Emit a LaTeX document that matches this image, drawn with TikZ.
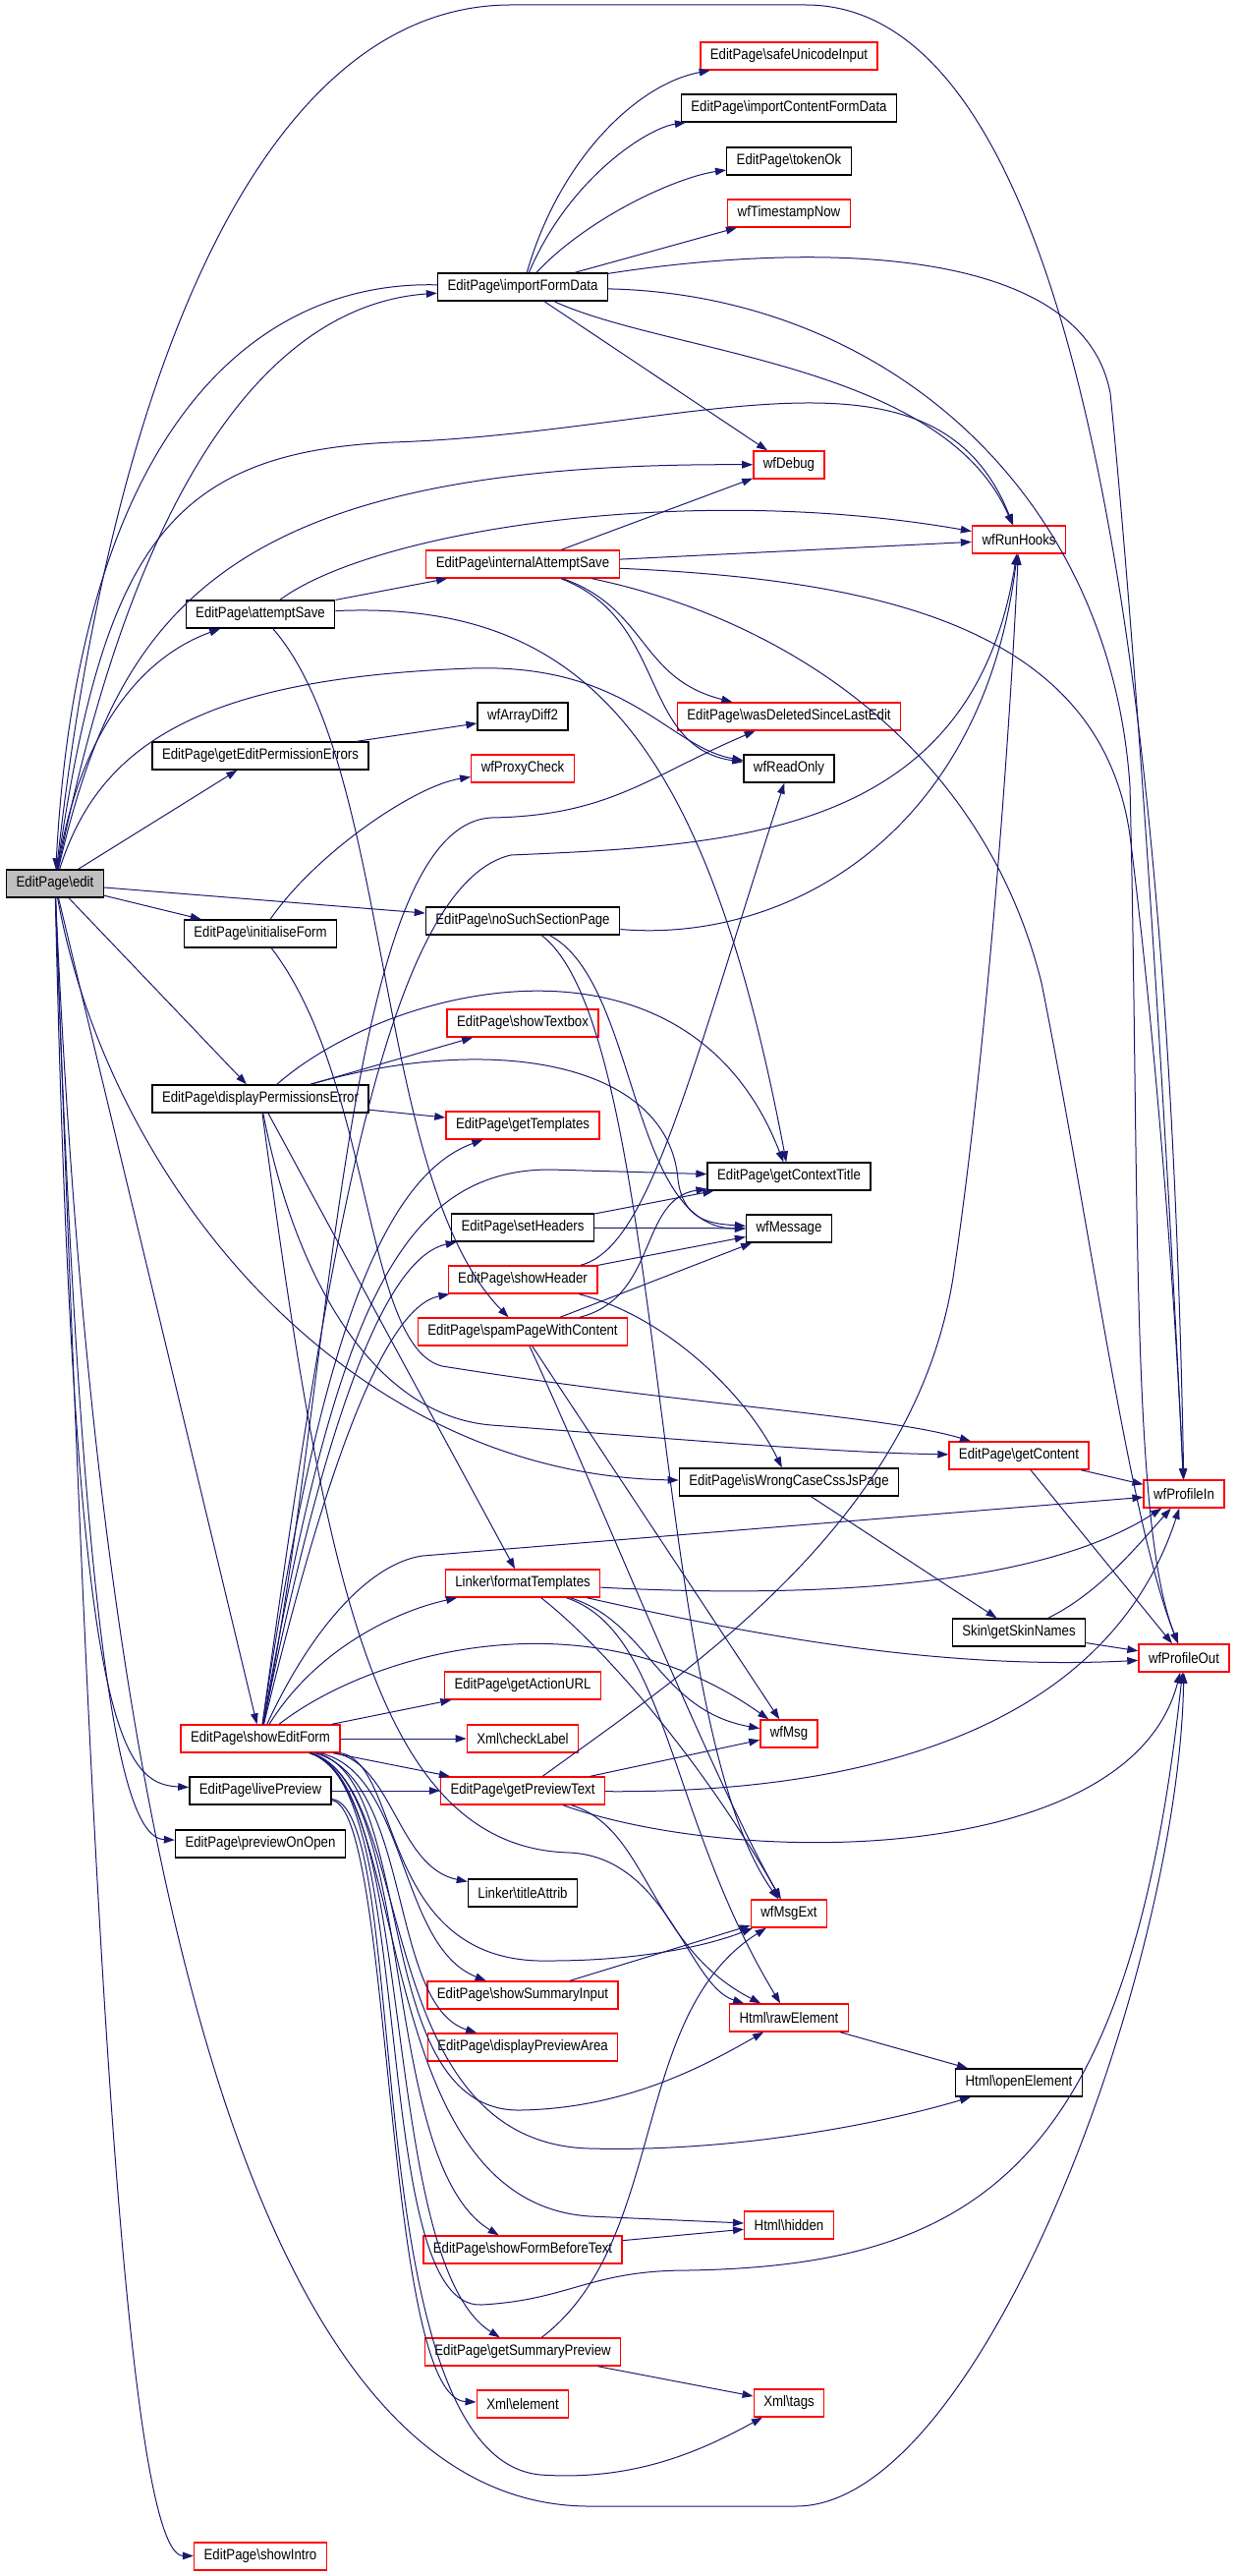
\documentclass[tikz,border=0pt]{standalone}
\usepackage{fontspec}
\setmainfont{Liberation Sans}[FakeStretch=0.87]
\usepackage{tikz}
\usetikzlibrary{arrows.meta}
\definecolor{cc}{RGB}{191, 191, 191}
\definecolor{nv}{RGB}{25, 25, 112}
\tikzset{
  fn/.style={rectangle, draw=black, line width=0.7pt, fill=white, inner xsep=5pt, inner ysep=0pt, minimum height=14pt, font=\fontsize{7.6}{9}\selectfont},
  fnred/.style={fn, draw=red},
  fnroot/.style={fn, fill=cc},
  call/.style={draw=nv, line width=0.5pt, -{Triangle[length=5.5pt, width=3.8pt]}}
}
\begin{document}
\begin{tikzpicture}[scale=0.5]
\useasboundingbox (0pt, 0pt) rectangle (1259pt, -2621pt);
\node (1) [fnroot] at (56pt, -899pt) {EditPage\textbackslash edit};
\node (2) [fn] at (532pt, -292pt) {EditPage\textbackslash importFormData};
\node (3) [fnred] at (803pt, -57pt) {EditPage\textbackslash safeUnicodeInput};
\node (4) [fn] at (803pt, -110pt) {EditPage\textbackslash importContentFormData};
\node (5) [fn] at (803pt, -164pt) {EditPage\textbackslash tokenOk};
\node (6) [fnred] at (803pt, -217pt) {wfTimestampNow};
\node (7) [fnred] at (803pt, -473pt) {wfDebug};
\node (8) [fnred] at (1037pt, -549pt) {wfRunHooks};
\node (9) [fnred] at (532pt, -574pt) {EditPage\textbackslash internalAttemptSave};
\node (10) [fn] at (265pt, -625pt) {EditPage\textbackslash attemptSave};
\node (11) [fn] at (532pt, -729pt) {wfArrayDiff2};
\node (12) [fnred] at (803pt, -729pt) {EditPage\textbackslash wasDeletedSinceLastEdit};
\node (13) [fn] at (265pt, -769pt) {EditPage\textbackslash getEditPermissionErrors};
\node (14) [fnred] at (532pt, -782pt) {wfProxyCheck};
\node (15) [fn] at (803pt, -782pt) {wfReadOnly};
\node (16) [fn] at (532pt, -937pt) {EditPage\textbackslash noSuchSectionPage};
\node (17) [fn] at (265pt, -950pt) {EditPage\textbackslash initialiseForm};
\node (18) [fnred] at (532pt, -1041pt) {EditPage\textbackslash showTextbox};
\node (19) [fn] at (265pt, -1118pt) {EditPage\textbackslash displayPermissionsError};
\node (20) [fnred] at (532pt, -1145pt) {EditPage\textbackslash getTemplates};
\node (21) [fn] at (803pt, -1197pt) {EditPage\textbackslash getContextTitle};
\node (22) [fn] at (532pt, -1249pt) {EditPage\textbackslash setHeaders};
\node (23) [fn] at (803pt, -1250pt) {wfMessage};
\node (24) [fnred] at (532pt, -1302pt) {EditPage\textbackslash showHeader};
\node (25) [fnred] at (532pt, -1355pt) {EditPage\textbackslash spamPageWithContent};
\node (26) [fnred] at (1037pt, -1481pt) {EditPage\textbackslash getContent};
\node (27) [fn] at (803pt, -1508pt) {EditPage\textbackslash isWrongCaseCssJsPage};
\node (28) [fnred] at (1205pt, -1520pt) {wfProfileIn};
\node (29) [fnred] at (532pt, -1611pt) {Linker\textbackslash formatTemplates};
\node (30) [fn] at (1037pt, -1661pt) {Skin\textbackslash getSkinNames};
\node (31) [fnred] at (1205pt, -1687pt) {wfProfileOut};
\node (32) [fnred] at (532pt, -1715pt) {EditPage\textbackslash getActionURL};
\node (33) [fnred] at (265pt, -1769pt) {EditPage\textbackslash showEditForm};
\node (34) [fnred] at (532pt, -1769pt) {Xml\textbackslash checkLabel};
\node (35) [fnred] at (803pt, -1764pt) {wfMsg};
\node (36) [fn] at (265pt, -1822pt) {EditPage\textbackslash livePreview};
\node (37) [fnred] at (532pt, -1822pt) {EditPage\textbackslash getPreviewText};
\node (38) [fn] at (265pt, -1876pt) {EditPage\textbackslash previewOnOpen};
\node (39) [fn] at (532pt, -1926pt) {Linker\textbackslash titleAttrib};
\node (40) [fnred] at (803pt, -1947pt) {wfMsgExt};
\node (41) [fnred] at (532pt, -2030pt) {EditPage\textbackslash showSummaryInput};
\node (42) [fnred] at (803pt, -2053pt) {Html\textbackslash rawElement};
\node (43) [fnred] at (532pt, -2083pt) {EditPage\textbackslash displayPreviewArea};
\node (44) [fn] at (1037pt, -2119pt) {Html\textbackslash openElement};
\node (45) [fnred] at (803pt, -2264pt) {Html\textbackslash hidden};
\node (46) [fnred] at (532pt, -2289pt) {EditPage\textbackslash showFormBeforeText};
\node (47) [fnred] at (532pt, -2393pt) {EditPage\textbackslash getSummaryPreview};
\node (48) [fnred] at (532pt, -2446pt) {Xml\textbackslash element};
\node (49) [fnred] at (803pt, -2445pt) {Xml\textbackslash tags};
\node (50) [fnred] at (265pt, -2601pt) {EditPage\textbackslash showIntro};
\draw [call] (1) .. controls (110pt, -400pt) and (260pt, -5pt) .. (520pt, -5pt) -- (820pt, -5pt) .. controls (1100pt, -5pt) and (1190pt, -700pt) .. (28);
\draw [call] (1) .. controls (140pt, -480pt) and (280pt, -310pt) .. (2);
\draw [call] (2) .. controls (250pt, -285pt) and (80pt, -450pt) .. (1);
\draw [call] (1) .. controls (120pt, -620pt) and (230pt, -470pt) .. (7);
\draw [call] (1) .. controls (105pt, -560pt) and (170pt, -460pt) .. (400pt, -450pt) .. controls (700pt, -440pt) and (950pt, -330pt) .. (8);
\draw [call] (1) .. controls (80pt, -750pt) and (140pt, -670pt) .. (10);
\draw [call] (1) .. controls (100pt, -760pt) and (200pt, -690pt) .. (480pt, -680pt) .. controls (640pt, -675pt) and (680pt, -760pt) .. (15);
\draw [call] (1) -- (13);
\draw [call] (1) -- (16);
\draw [call] (1) -- (17);
\draw [call] (1) -- (19);
\draw [call] (1) .. controls (110pt, -1200pt) and (350pt, -1500pt) .. (27);
\draw [call] (1) -- (33);
\draw [call] (1) .. controls (75pt, -1750pt) and (120pt, -1815pt) .. (36);
\draw [call] (1) .. controls (85pt, -1750pt) and (130pt, -1870pt) .. (38);
\draw [call] (1) .. controls (85pt, -1700pt) and (120pt, -2600pt) .. (50);
\draw [call] (1) .. controls (100pt, -1900pt) and (260pt, -2550pt) .. (600pt, -2550pt) -- (810pt, -2550pt) .. controls (1000pt, -2550pt) and (1200pt, -2000pt) .. (31);
\draw [call] (2) .. controls (570pt, -160pt) and (650pt, -85pt) .. (3);
\draw [call] (2) .. controls (580pt, -180pt) and (660pt, -130pt) .. (4);
\draw [call] (2) .. controls (600pt, -220pt) and (690pt, -180pt) .. (5);
\draw [call] (2) -- (6);
\draw [call] (2) -- (7);
\draw [call] (2) .. controls (680pt, -360pt) and (960pt, -370pt) .. (8);
\draw [call] (2) .. controls (800pt, -250pt) and (1100pt, -240pt) .. (1130pt, -400pt) .. controls (1160pt, -700pt) and (1190pt, -1200pt) .. (28);
\draw [call] (2) .. controls (900pt, -300pt) and (1130pt, -500pt) .. (1150pt, -800pt) .. controls (1160pt, -1200pt) and (1150pt, -1550pt) .. (31);
\draw [call] (9) -- (7);
\draw [call] (9) -- (8);
\draw [call] (9) .. controls (660pt, -620pt) and (650pt, -690pt) .. (12);
\draw [call] (9) .. controls (680pt, -630pt) and (650pt, -760pt) .. (15);
\draw [call] (9) .. controls (900pt, -590pt) and (1120pt, -640pt) .. (1150pt, -850pt) .. controls (1175pt, -1050pt) and (1195pt, -1300pt) .. (28);
\draw [call] (9) .. controls (800pt, -630pt) and (1000pt, -760pt) .. (1060pt, -1000pt) .. controls (1110pt, -1250pt) and (1150pt, -1550pt) .. (31);
\draw [call] (10) -- (9);
\draw [call] (10) .. controls (380pt, -540pt) and (700pt, -490pt) .. (8);
\draw [call] (10) .. controls (600pt, -610pt) and (720pt, -760pt) .. (21);
\draw [call] (10) .. controls (400pt, -780pt) and (380pt, -1200pt) .. (25);
\draw [call] (13) -- (11);
\draw [call] (17) .. controls (320pt, -870pt) and (420pt, -800pt) .. (14);
\draw [call] (17) .. controls (380pt, -1100pt) and (370pt, -1370pt) .. (450pt, -1390pt) .. controls (700pt, -1430pt) and (900pt, -1440pt) .. (26);
\draw [call] (19) -- (18);
\draw [call] (19) -- (20);
\draw [call] (19) .. controls (400pt, -1000pt) and (700pt, -930pt) .. (21);
\draw [call] (19) .. controls (500pt, -1050pt) and (680pt, -1080pt) .. (690pt, -1200pt) .. controls (695pt, -1240pt) and (720pt, -1245pt) .. (23);
\draw [call] (19) .. controls (300pt, -1300pt) and (380pt, -1440pt) .. (500pt, -1450pt) .. controls (700pt, -1465pt) and (850pt, -1478pt) .. (26);
\draw [call] (19) -- (29);
\draw [call] (19) .. controls (330pt, -1600pt) and (380pt, -1880pt) .. (580pt, -1885pt) .. controls (680pt, -1890pt) and (700pt, -2020pt) .. (42);
\draw [call] (16) .. controls (800pt, -960pt) and (1000pt, -850pt) .. (8);
\draw [call] (16) .. controls (650pt, -1000pt) and (640pt, -1250pt) .. (23);
\draw [call] (16) .. controls (680pt, -1050pt) and (660pt, -1750pt) .. (40);
\draw [call] (24) -- (23);
\draw [call] (24) .. controls (660pt, -1270pt) and (700pt, -1100pt) .. (15);
\draw [call] (24) .. controls (680pt, -1340pt) and (760pt, -1420pt) .. (27);
\draw [call] (22) -- (21);
\draw [call] (22) -- (23);
\draw [call] (25) -- (23);
\draw [call] (25) .. controls (670pt, -1320pt) and (650pt, -1220pt) .. (21);
\draw [call] (25) -- (35);
\draw [call] (25) .. controls (600pt, -1500pt) and (720pt, -1800pt) .. (40);
\draw [call] (26) -- (28);
\draw [call] (26) -- (31);
\draw [call] (27) -- (30);
\draw [call] (30) .. controls (1120pt, -1620pt) and (1160pt, -1570pt) .. (28);
\draw [call] (30) -- (31);
\draw [call] (29) .. controls (800pt, -1625pt) and (1050pt, -1620pt) .. (28);
\draw [call] (29) .. controls (750pt, -1660pt) and (950pt, -1700pt) .. (31);
\draw [call] (29) .. controls (660pt, -1650pt) and (670pt, -1740pt) .. (35);
\draw [call] (29) .. controls (620pt, -1680pt) and (720pt, -1800pt) .. (40);
\draw [call] (29) .. controls (680pt, -1660pt) and (680pt, -1850pt) .. (42);
\draw [call] (37) -- (35);
\draw [call] (37) .. controls (700pt, -1700pt) and (930pt, -1550pt) .. (970pt, -1300pt) .. controls (1000pt, -1100pt) and (1025pt, -800pt) .. (8);
\draw [call] (37) .. controls (900pt, -1825pt) and (1130pt, -1750pt) .. (28);
\draw [call] (37) .. controls (750pt, -1900pt) and (1150pt, -1900pt) .. (31);
\draw [call] (37) .. controls (660pt, -1860pt) and (660pt, -1980pt) .. (42);
\draw [call] (36) -- (37);
\draw [call] (36) .. controls (400pt, -1840pt) and (390pt, -2440pt) .. (48);
\draw [call] (36) .. controls (420pt, -1840pt) and (360pt, -2500pt) .. (550pt, -2518pt) .. controls (650pt, -2525pt) and (720pt, -2490pt) .. (49);
\draw [call] (33) .. controls (320pt, -1400pt) and (380pt, -1200pt) .. (20);
\draw [call] (33) .. controls (330pt, -1450pt) and (390pt, -1280pt) .. (22);
\draw [call] (33) .. controls (330pt, -1500pt) and (390pt, -1330pt) .. (24);
\draw [call] (33) .. controls (340pt, -1350pt) and (400pt, -1190pt) .. (560pt, -1190pt) -- (21);
\draw [call] (33) .. controls (340pt, -1400pt) and (350pt, -840pt) .. (500pt, -832pt) .. controls (620pt, -830pt) and (660pt, -790pt) .. (12);
\draw [call] (33) .. controls (330pt, -1300pt) and (390pt, -900pt) .. (520pt, -870pt) .. controls (750pt, -860pt) and (990pt, -850pt) .. (8);
\draw [call] (33) .. controls (320pt, -1650pt) and (380pt, -1590pt) .. (430pt, -1583pt) -- (28);
\draw [call] (33) .. controls (320pt, -1680pt) and (400pt, -1640pt) .. (29);
\draw [call] (33) .. controls (380pt, -1680pt) and (600pt, -1620pt) .. (35);
\draw [call] (33) -- (32);
\draw [call] (33) -- (34);
\draw [call] (33) -- (37);
\draw [call] (33) .. controls (400pt, -1795pt) and (405pt, -1900pt) .. (39);
\draw [call] (33) .. controls (410pt, -1795pt) and (385pt, -2000pt) .. (560pt, -1995pt) .. controls (650pt, -1995pt) and (720pt, -1980pt) .. (40);
\draw [call] (33) .. controls (415pt, -1805pt) and (405pt, -1980pt) .. (41);
\draw [call] (33) .. controls (420pt, -1810pt) and (395pt, -2040pt) .. (43);
\draw [call] (33) .. controls (425pt, -1810pt) and (375pt, -2150pt) .. (530pt, -2147pt) .. controls (640pt, -2145pt) and (720pt, -2100pt) .. (42);
\draw [call] (33) .. controls (425pt, -1815pt) and (375pt, -2180pt) .. (600pt, -2186pt) .. controls (750pt, -2190pt) and (900pt, -2160pt) .. (44);
\draw [call] (33) .. controls (420pt, -1815pt) and (375pt, -2240pt) .. (600pt, -2255pt) -- (45);
\draw [call] (33) .. controls (425pt, -1815pt) and (385pt, -2200pt) .. (46);
\draw [call] (33) .. controls (425pt, -1815pt) and (375pt, -2350pt) .. (490pt, -2345pt) .. controls (580pt, -2340pt) and (600pt, -2310pt) .. (700pt, -2310pt) .. controls (1000pt, -2305pt) and (1150pt, -2200pt) .. (31);
\draw [call] (33) .. controls (425pt, -1815pt) and (385pt, -2300pt) .. (47);
\draw [call] (41) -- (40);
\draw [call] (47) -- (49);
\draw [call] (47) .. controls (680pt, -2280pt) and (640pt, -2050pt) .. (40);
\draw [call] (46) -- (45);
\draw [call] (42) -- (44);
\end{tikzpicture}
\end{document}
